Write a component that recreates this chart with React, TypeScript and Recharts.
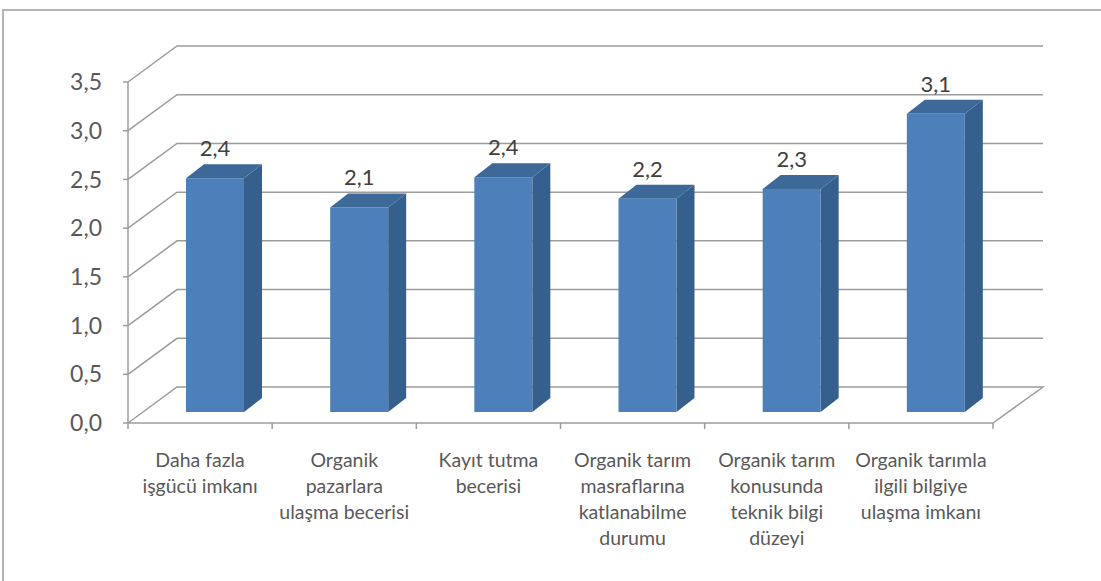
import React from 'react';
import { BarChart, Bar, XAxis, YAxis, CartesianGrid, LabelList } from 'recharts';

const categories = [
  'Daha fazla işgücü imkanı',
  'Organik pazarlara ulaşma becerisi',
  'Kayıt tutma becerisi',
  'Organik tarım masraflarına katlanabilme durumu',
  'Organik tarım konusunda teknik bilgi düzeyi',
  'Organik tarımla ilgili bilgiye ulaşma imkanı',
];
const categoryLines = [
  ['Daha fazla', 'işgücü imkanı'],
  ['Organik', 'pazarlara', 'ulaşma becerisi'],
  ['Kayıt tutma', 'becerisi'],
  ['Organik tarım', 'masraflarına', 'katlanabilme', 'durumu'],
  ['Organik tarım', 'konusunda', 'teknik bilgi', 'düzeyi'],
  ['Organik tarımla', 'ilgili bilgiye', 'ulaşma imkanı'],
];
const values = [2.4, 2.1, 2.41, 2.19, 2.29, 3.06];
const yTicks = [0, 0.5, 1, 1.5, 2, 2.5, 3, 3.5];

const data = categories.map((name, i) => ({ name, value: values[i], idx: i }));

const W = 1101;
const H = 581;
const MARGIN = { top: 82, right: 108, bottom: 28, left: 28 };
const Y_AXIS_W = 100;
const X_AXIS_H = 130;
const PLOT_LEFT = MARGIN.left + Y_AXIS_W;
const PLOT_RIGHT = W - MARGIN.right;
const PLOT_BOTTOM = H - MARGIN.bottom - X_AXIS_H;
const BAND = (PLOT_RIGHT - PLOT_LEFT) / categories.length;

// 3D projection offsets
const WALL_DX = 49;
const WALL_DY = 36;
const BAR_SHIFT_X = 15;
const BAR_SHIFT_Y = 11;
const BAR_DX = 18;
const BAR_DY = 14;

const GRID = '#9c9c9c';
const FRONT = '#4d80ba';
const SIDE = '#355f8c';
const TOP = '#3d6998';
const FONT = 'Lato, "Open Sans", sans-serif';

const fmt = (v: number) => v.toFixed(1).replace('.', ',');

const Bar3D = (props: any) => {
  const { x, y, width, height } = props;
  if (height == null || width == null) return null;
  const L = x + BAR_SHIFT_X;
  const R = L + width;
  const T = y - BAR_SHIFT_Y;
  const B = y + height - BAR_SHIFT_Y;
  return (
    <g>
      <polygon points={`${R},${T} ${R + BAR_DX},${T - BAR_DY} ${R + BAR_DX},${B - BAR_DY} ${R},${B}`} fill={SIDE} />
      <polygon points={`${L},${T} ${L + BAR_DX},${T - BAR_DY} ${R + BAR_DX},${T - BAR_DY} ${R},${T}`} fill={TOP} />
      <rect x={L} y={T} width={width} height={height} fill={FRONT} />
    </g>
  );
};

const CatTick = (props: any) => {
  const { x, index } = props;
  const lines = categoryLines[index] || [];
  const left = x - BAND / 2;
  const right = x + BAND / 2;
  return (
    <g>
      <line x1={left} y1={PLOT_BOTTOM} x2={left} y2={PLOT_BOTTOM + 6} stroke={GRID} strokeWidth={1.5} />
      {index === categories.length - 1 && (
        <line x1={right} y1={PLOT_BOTTOM} x2={right} y2={PLOT_BOTTOM + 6} stroke={GRID} strokeWidth={1.5} />
      )}
      <text textAnchor="middle" fill="#595959" fontSize={19.5} fontFamily={FONT}>
        {lines.map((l, i) => (
          <tspan key={i} x={x} y={PLOT_BOTTOM + 44 + i * 26}>
            {l}
          </tspan>
        ))}
      </text>
    </g>
  );
};

const gridLine = (p: any) => {
  const { x1, y1, x2 } = p;
  const back = y1 - WALL_DY;
  let d = `M${x1},${y1} L${x1 + WALL_DX},${back} L${x2 + WALL_DX + 1},${back}`;
  if (Math.abs(y1 - PLOT_BOTTOM) < 1) d += ` L${x2},${y1}`;
  return <path key={`g-${y1}`} d={d} stroke={GRID} strokeWidth={1.5} fill="none" />;
};

const ValueLabel = (p: any) => {
  const { x, y, width, value } = p;
  return (
    <text
      x={Number(x) + Number(width) / 2 + BAR_SHIFT_X}
      y={Number(y) - BAR_SHIFT_Y - 22}
      textAnchor="middle"
      fill="#404040"
      fontSize={22}
      fontFamily={FONT}
    >
      {fmt(Number(value))}
    </text>
  );
};

export default function App() {
  return (
    <div style={{ position: 'absolute', left: 0, top: 0, width: W, height: H, overflow: 'hidden', background: '#fff' }}>
      <div
        style={{
          position: 'absolute',
          left: 2,
          top: 9,
          width: 1200,
          height: 700,
          border: '2px solid #b4b4b4',
        }}
      />
      <div style={{ position: 'absolute', left: 0, top: 0 }}>
        <BarChart width={W} height={H} data={data} margin={MARGIN} barSize={58}>
          <CartesianGrid vertical={false} horizontal={gridLine} />
          <XAxis
            dataKey="name"
            height={X_AXIS_H}
            interval={0}
            tickLine={false}
            axisLine={{ stroke: GRID, strokeWidth: 1.5 }}
            tick={<CatTick />}
          />
          <YAxis
            domain={[0, 3.5]}
            ticks={yTicks}
            width={Y_AXIS_W}
            tickSize={5}
            tickMargin={21}
            tickFormatter={fmt}
            axisLine={{ stroke: GRID, strokeWidth: 1.5 }}
            tickLine={{ stroke: GRID, strokeWidth: 1.5 }}
            tick={{ fill: '#595959', fontSize: 23, fontFamily: FONT }}
          />
          <Bar dataKey="value" shape={<Bar3D />} isAnimationActive={false}>
            <LabelList dataKey="value" content={<ValueLabel />} />
          </Bar>
        </BarChart>
      </div>
    </div>
  );
}
